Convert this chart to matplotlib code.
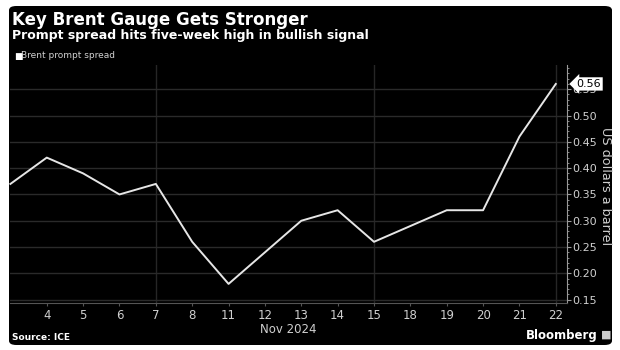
import matplotlib
matplotlib.use("Agg")
import matplotlib.pyplot as plt
from matplotlib.patches import FancyBboxPatch
from matplotlib.ticker import MultipleLocator, FixedLocator

# Data
days = ["1", "4", "5", "6", "7", "8", "11", "12", "13", "14", "15", "18", "19", "20", "21", "22"]
values = [0.37, 0.42, 0.39, 0.35, 0.37, 0.26, 0.18, 0.24, 0.30, 0.32, 0.26, 0.29, 0.32, 0.32, 0.46, 0.56]
fridays = ["7", "15", "22"]
yticks = [0.15, 0.20, 0.25, 0.30, 0.35, 0.40, 0.45, 0.50, 0.55]

W, H = 620, 350
fig = plt.figure(figsize=(W / 100, H / 100), dpi=100, facecolor="white")

# black rounded panel
panel = FancyBboxPatch((9 / W, 5 / H), (612 - 9) / W, (344 - 5) / H,
                       boxstyle="round,pad=0,rounding_size=0.012",
                       transform=fig.transFigure, facecolor="black",
                       edgecolor="none", zorder=-5)
fig.patches.append(panel)

ax = fig.add_axes([10.4 / W, 47 / H, (566.7 - 10.4) / W, (303 - 65) / H])
ax.set_facecolor("black")

x = list(range(len(days)))
ax.plot(x, values, color="#e6e6e6", lw=1.4, zorder=3, clip_on=False)

ax.set_xlim(0, 15.3)
ax.set_ylim(0.1437, 0.596)

# grid
ax.yaxis.set_major_locator(FixedLocator(yticks))
ax.yaxis.set_minor_locator(MultipleLocator(0.01))
ax.grid(axis="y", which="major", color="#2a2a2a", lw=1.0)
for d in fridays:
    ax.axvline(days.index(d), color="#262626", lw=1.0, zorder=1)

# axes
ax.yaxis.tick_right()
for s in ["top", "left"]:
    ax.spines[s].set_visible(False)
ax.spines["right"].set_color("#9a9a9a")
ax.spines["bottom"].set_color("#555555")
ax.tick_params(axis="y", which="major", colors="#9a9a9a", labelcolor="#d0d0d0",
               length=3, width=0.8, labelsize=8, pad=1)
ax.tick_params(axis="y", which="minor", colors="#9a9a9a", length=1.5, width=0.6)
ax.set_yticklabels([f"{v:.2f}" for v in yticks])

ax.set_xticks(x[1:])
ax.set_xticklabels(days[1:])
ax.tick_params(axis="x", colors="#555555", labelcolor="#d0d0d0", length=2,
               labelsize=8.5, pad=2)
ax.set_xlabel("Nov 2024", color="#d0d0d0", fontsize=8.5, labelpad=1)
fig.text(605 / W, 1 - 186 / H, "US dollars a barrel", color="#d0d0d0", fontsize=9.2,
         rotation=270, va="center", ha="center")

# last value label
ax.annotate(f"{values[-1]:.2f}", xy=(1.0, values[-1]), xycoords=("axes fraction", "data"),
            xytext=(7, 0), textcoords="offset points", va="center", ha="left",
            fontsize=8, color="black",
            bbox=dict(boxstyle="larrow,pad=0.15", fc="white", ec="none"),
            annotation_clip=False, zorder=5)

# titles
fig.text(12 / W, 1 - 20 / H, "Key Brent Gauge Gets Stronger", color="white",
         fontsize=12, fontweight="bold", va="center", ha="left")
fig.text(12 / W, 1 - 36 / H, "Prompt spread hits five-week high in bullish signal",
         color="white", fontsize=9, fontweight="bold", va="center", ha="left")
fig.text(14 / W, 1 - 56 / H, "\u25A0", color="white", fontsize=6.5, va="center", ha="left")
fig.text(21 / W, 1 - 56 / H, "Brent prompt spread", color="#d0d0d0", fontsize=6.5,
         va="center", ha="left")
fig.text(12 / W, 1 - 337 / H, "Source: ICE", color="white", fontsize=6.5,
         fontweight="bold", va="center", ha="left")
fig.text(598 / W, 1 - 335 / H, "Bloomberg", color="white", fontsize=8.5,
         fontweight="bold", va="center", ha="right")
fig.text(601 / W, 1 - 335 / H, "\u25A0", color="#cccccc", fontsize=8, va="center", ha="left")

fig.savefig("out.png", dpi=100, facecolor="white")
